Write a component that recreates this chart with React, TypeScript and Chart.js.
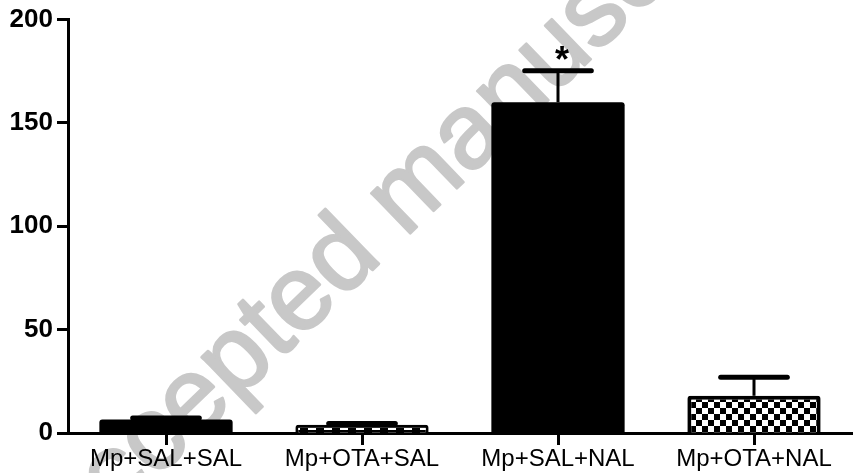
import React, { useEffect, useRef } from "react";
import { Chart, registerables } from "chart.js";

Chart.register(...registerables);

const categories = ["Mp+SAL+SAL", "Mp+OTA+SAL", "Mp+SAL+NAL", "Mp+OTA+NAL"];
const means = [6.5, 4, 160, 18];
const sems = [0.8, 0.6, 15.3, 9];
const significance = ["", "", "*", ""];
const yTicks = [0, 50, 100, 150, 200];
const watermarkText = "Accepted manuscript";

function makeChecker(): CanvasPattern | string {
  const c = document.createElement("canvas");
  c.width = 12;
  c.height = 12;
  const g = c.getContext("2d");
  if (!g) return "#000";
  g.fillStyle = "#fff";
  g.fillRect(0, 0, 12, 12);
  g.fillStyle = "#000";
  g.fillRect(0, 0, 6, 6);
  g.fillRect(6, 6, 6, 6);
  return g.createPattern(c, "repeat") || "#000";
}

function makeDashes(): CanvasPattern | string {
  const c = document.createElement("canvas");
  c.width = 16;
  c.height = 4;
  const g = c.getContext("2d");
  if (!g) return "#000";
  g.fillStyle = "#000";
  g.fillRect(0, 0, 16, 4);
  g.fillStyle = "#fff";
  g.fillRect(4, 0, 8, 2);
  return g.createPattern(c, "repeat") || "#000";
}

const watermarkPlugin = {
  id: "watermark",
  beforeDraw(chart: any) {
    const ctx = chart.ctx;
    ctx.save();
    ctx.fillStyle = "#fff";
    ctx.fillRect(0, 0, chart.width, chart.height);
    ctx.translate(66, 566);
    ctx.rotate((-44 * Math.PI) / 180);
    ctx.font = "106px Arial, 'Liberation Sans', sans-serif";
    ctx.fillStyle = "#c8c8c8";
    ctx.strokeStyle = "#c8c8c8";
    ctx.lineWidth = 2.5;
    ctx.lineJoin = "round";
    ctx.textAlign = "left";
    ctx.textBaseline = "alphabetic";
    ctx.fillText(watermarkText, 0, 0);
    ctx.strokeText(watermarkText, 0, 0);
    ctx.restore();
  },
};

const errorBarPlugin = {
  id: "errorBars",
  afterDatasetsDraw(chart: any) {
    const ctx = chart.ctx;
    const meta = chart.getDatasetMeta(0);
    const y = chart.scales.y;
    ctx.save();
    meta.data.forEach((bar: any, i: number) => {
      const x = bar.x;
      const top = y.getPixelForValue(means[i]);
      const capY = y.getPixelForValue(means[i] + sems[i]);
      const half = bar.width / 4;
      ctx.strokeStyle = "#000";
      ctx.lineWidth = 3;
      ctx.lineCap = "butt";
      ctx.beginPath();
      ctx.moveTo(x, top);
      ctx.lineTo(x, capY);
      ctx.stroke();
      ctx.lineWidth = 5;
      ctx.lineCap = "round";
      ctx.beginPath();
      ctx.moveTo(x - half, capY);
      ctx.lineTo(x + half, capY);
      ctx.stroke();
      if (significance[i]) {
        ctx.font = "bold 36px Arial, 'Liberation Sans', sans-serif";
        ctx.fillStyle = "#000";
        ctx.textAlign = "center";
        ctx.textBaseline = "alphabetic";
        ctx.fillText(significance[i], x + 4, capY + 1);
      }
    });
    ctx.restore();
  },
};

export default function App() {
  const ref = useRef<HTMLCanvasElement | null>(null);
  useEffect(() => {
    document.body.style.margin = "0";
    if (!ref.current) return;
    const checker = makeChecker();
    const dashes = makeDashes();
    const chart = new Chart(ref.current, {
      type: "bar",
      data: {
        labels: categories,
        datasets: [
          {
            data: means,
            backgroundColor: ["#000", dashes, "#000", checker] as any,
            borderColor: "#000",
            borderWidth: [0, 3, 0, 4] as any,
            borderRadius: 3,
            borderSkipped: "bottom",
            barPercentage: 0.68,
            categoryPercentage: 1,
          },
        ],
      },
      options: {
        animation: false,
        responsive: false,
        maintainAspectRatio: false,
        layout: { padding: { top: 17, right: 1, left: 0, bottom: 0 } },
        plugins: { legend: { display: false }, tooltip: { enabled: false } },
        scales: {
          x: {
            afterFit: (s: any) => {
              s.height = 40;
            },
            grid: {
              display: true,
              drawOnChartArea: false,
              drawTicks: true,
              tickLength: 12,
              tickWidth: 3,
              tickColor: "#000",
              offset: false,
            },
            border: { display: true, color: "#000", width: 3 },
            ticks: {
              color: "#000",
              padding: 0,
              font: { family: "Arial, 'Liberation Sans', sans-serif", size: 24 },
              maxRotation: 0,
              autoSkip: false,
            },
          },
          y: {
            min: 0,
            max: 200,
            afterFit: (s: any) => {
              s.width = 68;
            },
            afterBuildTicks: (s: any) => {
              s.ticks = yTicks.map((v) => ({ value: v }));
            },
            grid: {
              display: true,
              drawOnChartArea: false,
              drawTicks: true,
              tickLength: 11,
              tickWidth: 3,
              tickColor: "#000",
            },
            border: { display: true, color: "#000", width: 3 },
            ticks: {
              color: "#000",
              padding: 4,
              font: { family: "Arial, 'Liberation Sans', sans-serif", size: 26, weight: "bold" },
            },
          },
        },
      },
      plugins: [watermarkPlugin, errorBarPlugin],
    });
    return () => chart.destroy();
  }, []);
  return (
    <div style={{ width: 853, height: 473 }}>
      <canvas ref={ref} width={853} height={473} style={{ display: "block", width: 853, height: 473 }} />
    </div>
  );
}
